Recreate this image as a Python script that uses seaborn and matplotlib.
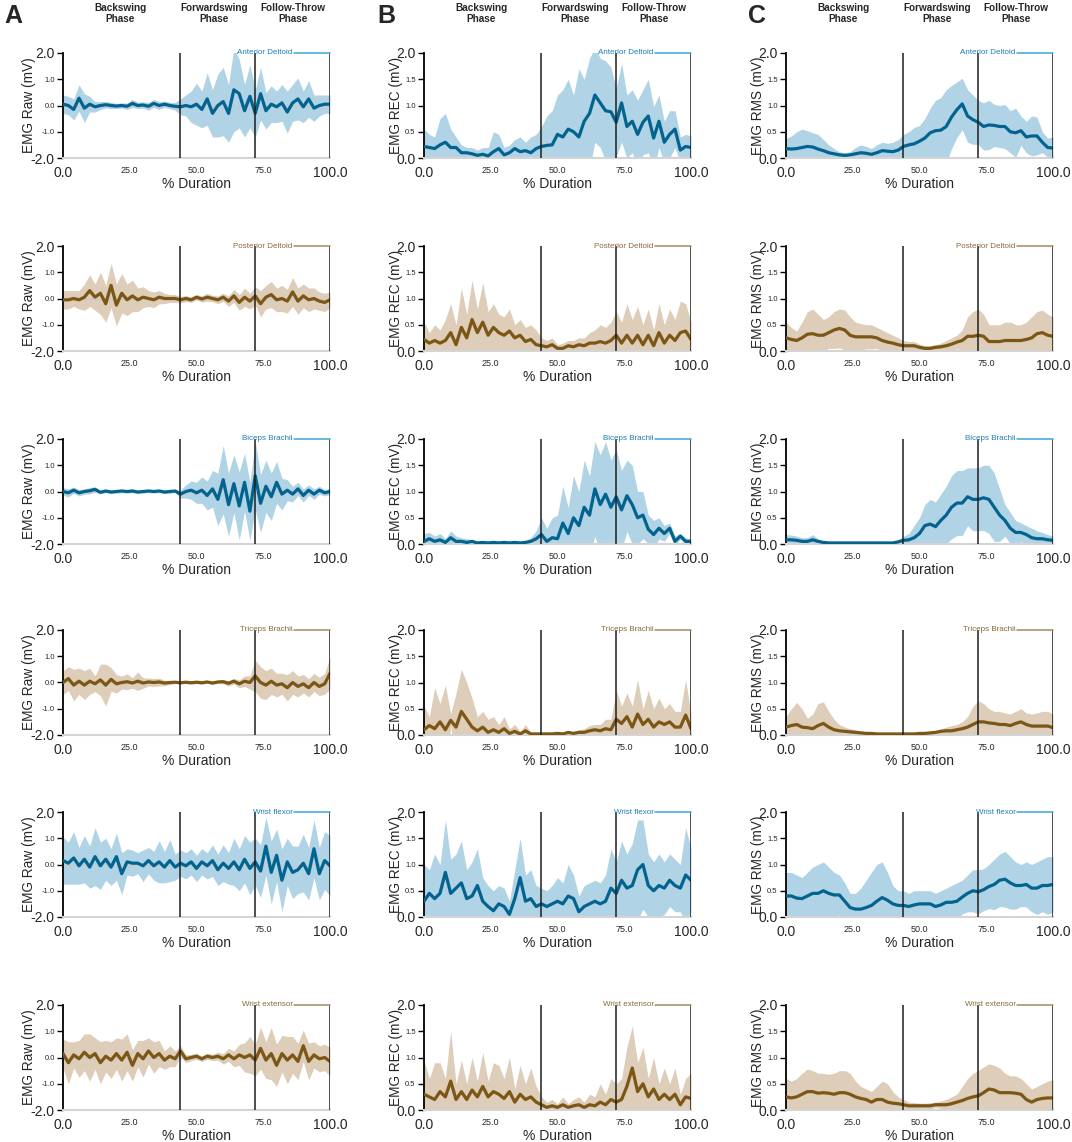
import numpy as np
import matplotlib
matplotlib.use("Agg")
import matplotlib.pyplot as plt
import seaborn as sns

# % of swing duration, sampled every 2 %
pct = np.arange(0, 101, 2)

# ---- Anterior Deltoid ----
ad_raw_mean = [0.05, 0.0, -0.15, 0.28, -0.1, 0.05, -0.05, 0.0, 0.03, 0.0,
               -0.02, 0.0, -0.03, 0.08, 0.0, 0.02, -0.03, 0.08, 0.0, 0.05,
               0.0, -0.03, -0.05, 0.0, -0.05, 0.05, -0.15, 0.25, -0.3, 0.0,
               0.15, -0.3, 0.6, 0.45, -0.2, 0.35, -0.3, 0.45, -0.2, 0.05,
               -0.05, 0.1, -0.25, 0.1, 0.25, -0.05, 0.25, -0.1, 0.0, 0.05,
               0.05]
ad_raw_sd = [0.35, 0.35, 0.4, 0.5, 0.55, 0.3, 0.2, 0.15, 0.12, 0.12,
             0.1, 0.1, 0.12, 0.15, 0.12, 0.12, 0.15, 0.15, 0.15, 0.12,
             0.12, 0.15, 0.3, 0.4, 0.6, 0.8, 0.7, 1.0, 0.9, 1.2,
             1.3, 1.1, 1.6, 1.3, 1.0, 1.2, 0.9, 1.0, 0.7, 0.7,
             0.6, 0.7, 0.8, 0.7, 0.8, 0.6, 0.7, 0.5, 0.4, 0.35,
             0.35]
ad_rec_mean = [0.22, 0.2, 0.18, 0.25, 0.3, 0.2, 0.2, 0.1, 0.1, 0.08,
               0.05, 0.07, 0.04, 0.12, 0.18, 0.06, 0.1, 0.18, 0.12, 0.14,
               0.1, 0.18, 0.22, 0.24, 0.25, 0.45, 0.4, 0.55, 0.5, 0.4,
               0.7, 0.85, 1.2, 1.05, 0.9, 0.88, 0.68, 1.05, 0.6, 0.7,
               0.45, 0.68, 0.8, 0.38, 0.7, 0.3, 0.45, 0.55, 0.15, 0.22,
               0.2]
ad_rec_sd = [0.33, 0.25, 0.22, 0.5, 0.55, 0.35, 0.2, 0.15, 0.1, 0.12,
             0.1, 0.13, 0.16, 0.38, 0.27, 0.14, 0.15, 0.17, 0.28, 0.16,
             0.3, 0.27, 0.38, 0.56, 0.65, 0.75, 0.9, 0.95, 0.7, 1.3,
             0.8, 1.05, 0.9, 0.85, 0.95, 0.85, 0.65, 0.75, 0.6, 0.6,
             0.65, 0.62, 0.7, 0.6, 0.5, 0.4, 0.45, 0.35, 0.25, 0.23,
             0.22]
ad_rms_mean = [0.18, 0.17, 0.18, 0.2, 0.22, 0.21, 0.17, 0.14, 0.1, 0.08,
               0.06, 0.05, 0.06, 0.08, 0.1, 0.09, 0.07, 0.1, 0.14, 0.13,
               0.12, 0.15, 0.22, 0.25, 0.27, 0.32, 0.38, 0.48, 0.52, 0.53,
               0.6, 0.78, 0.92, 1.03, 0.8, 0.73, 0.68, 0.6, 0.63, 0.62,
               0.6, 0.6, 0.5, 0.48, 0.52, 0.4, 0.42, 0.42, 0.3, 0.2,
               0.19]
ad_rms_sd = [0.19, 0.25, 0.32, 0.35, 0.3, 0.27, 0.28, 0.21, 0.15, 0.1,
             0.06, 0.05, 0.06, 0.12, 0.15, 0.13, 0.11, 0.15, 0.16, 0.15,
             0.18, 0.2, 0.23, 0.25, 0.31, 0.3, 0.37, 0.47, 0.58, 0.62,
             0.7, 0.6, 0.53, 0.49, 0.5, 0.47, 0.42, 0.45, 0.47, 0.4,
             0.4, 0.42, 0.4, 0.47, 0.28, 0.3, 0.38, 0.36, 0.2, 0.18,
             0.21]

# ---- Posterior Deltoid ----
pd_raw_mean = [-0.05, -0.05, 0.0, -0.05, 0.05, 0.3, 0.05, 0.2, -0.2, 0.5,
               -0.25, 0.2, -0.05, 0.1, -0.05, 0.05, 0.0, -0.05, 0.05, 0.0,
               0.0, 0.0, -0.05, 0.0, -0.05, 0.05, -0.02, 0.05, 0.0, -0.05,
               0.05, -0.1, 0.1, -0.15, 0.05, -0.1, 0.1, -0.2, 0.05, 0.15,
               -0.05, 0.0, -0.1, 0.25, -0.1, 0.1, -0.05, 0.0, -0.1, -0.15,
               -0.05]
pd_raw_sd = [0.35, 0.35, 0.3, 0.35, 0.5, 0.6, 0.5, 0.8, 0.7, 0.85,
             0.8, 0.75, 0.6, 0.6, 0.45, 0.4, 0.3, 0.3, 0.25, 0.2,
             0.15, 0.15, 0.12, 0.12, 0.1, 0.1, 0.12, 0.15, 0.12, 0.15,
             0.15, 0.2, 0.25, 0.3, 0.35, 0.3, 0.35, 0.5, 0.45, 0.5,
             0.45, 0.5, 0.45, 0.55, 0.5, 0.45, 0.45, 0.4, 0.35, 0.35,
             0.3]
pd_rec_mean = [0.22, 0.15, 0.2, 0.15, 0.2, 0.35, 0.12, 0.45, 0.25, 0.6,
               0.35, 0.55, 0.3, 0.45, 0.35, 0.3, 0.38, 0.25, 0.3, 0.18,
               0.22, 0.12, 0.1, 0.08, 0.12, 0.05, 0.05, 0.1, 0.08, 0.12,
               0.1, 0.15, 0.15, 0.18, 0.15, 0.2, 0.3, 0.15, 0.3, 0.15,
               0.3, 0.12, 0.3, 0.1, 0.35, 0.15, 0.3, 0.2, 0.35, 0.38,
               0.22]
pd_rec_sd = [0.33, 0.2, 0.3, 0.25, 0.4, 0.55, 0.38, 0.75, 0.45, 0.75,
             0.45, 0.75, 0.45, 0.45, 0.35, 0.35, 0.42, 0.25, 0.3, 0.27,
             0.28, 0.28, 0.15, 0.12, 0.13, 0.07, 0.1, 0.1, 0.12, 0.13,
             0.15, 0.2, 0.25, 0.32, 0.3, 0.35, 0.45, 0.4, 0.6, 0.45,
             0.55, 0.38, 0.5, 0.3, 0.55, 0.35, 0.5, 0.4, 0.6, 0.52,
             0.33]
pd_rms_mean = [0.25, 0.22, 0.2, 0.25, 0.32, 0.33, 0.3, 0.3, 0.35, 0.4,
               0.43, 0.4, 0.3, 0.27, 0.27, 0.27, 0.27, 0.25, 0.2, 0.17,
               0.15, 0.12, 0.1, 0.1, 0.1, 0.07, 0.05, 0.05, 0.07, 0.08,
               0.1, 0.13, 0.17, 0.2, 0.28, 0.28, 0.3, 0.28, 0.18, 0.18,
               0.18, 0.2, 0.2, 0.2, 0.2, 0.22, 0.25, 0.33, 0.35, 0.3,
               0.28]
pd_rms_sd = [0.3, 0.23, 0.18, 0.3, 0.43, 0.47, 0.4, 0.3, 0.3, 0.35,
             0.37, 0.38, 0.35, 0.28, 0.25, 0.23, 0.23, 0.2, 0.2, 0.18,
             0.15, 0.13, 0.1, 0.08, 0.08, 0.06, 0.05, 0.05, 0.05, 0.07,
             0.1, 0.12, 0.13, 0.2, 0.37, 0.47, 0.5, 0.42, 0.32, 0.32,
             0.32, 0.35, 0.35, 0.3, 0.3, 0.33, 0.4, 0.42, 0.43, 0.4,
             0.37]

# ---- Biceps Brachii ----
bb_raw_mean = [0.0, -0.05, 0.05, -0.05, 0.0, 0.03, 0.08, -0.03, 0.02, -0.02,
               0.0, 0.02, 0.0, 0.02, -0.02, 0.0, 0.02, 0.0, 0.02, -0.02,
               0.0, 0.02, -0.1, 0.0, 0.05, -0.05, 0.05, -0.15, 0.1, -0.3,
               0.45, -0.5, 0.3, -0.55, 0.35, -0.75, 0.6, -0.45, 0.2, -0.2,
               0.35, -0.1, 0.05, -0.1, 0.1, -0.15, 0.05, -0.1, 0.05, -0.05,
               0.0]
bb_raw_sd = [0.15, 0.15, 0.12, 0.12, 0.1, 0.12, 0.1, 0.06, 0.06, 0.06,
             0.06, 0.06, 0.06, 0.06, 0.06, 0.06, 0.06, 0.06, 0.06, 0.06,
             0.06, 0.06, 0.15, 0.25, 0.35, 0.4, 0.5, 0.55, 0.7, 1.0,
             1.3, 1.2, 1.1, 1.3, 1.1, 1.1, 1.3, 1.1, 1.0, 0.9,
             0.8, 0.6, 0.4, 0.3, 0.25, 0.25, 0.2, 0.2, 0.15, 0.12,
             0.12]
bb_rec_mean = [0.05, 0.1, 0.05, 0.08, 0.03, 0.12, 0.05, 0.05, 0.03, 0.05,
               0.02, 0.03, 0.02, 0.03, 0.02, 0.03, 0.02, 0.03, 0.02, 0.03,
               0.05, 0.1, 0.18, 0.05, 0.12, 0.1, 0.4, 0.2, 0.5, 0.35,
               0.7, 0.55, 1.05, 0.75, 0.95, 0.7, 0.9, 0.65, 0.92, 0.75,
               0.5, 0.55, 0.28, 0.18, 0.3, 0.2, 0.3, 0.05, 0.15, 0.05,
               0.05]
bb_rec_sd = [0.15, 0.12, 0.1, 0.12, 0.07, 0.13, 0.1, 0.07, 0.07, 0.03,
             0.03, 0.03, 0.03, 0.03, 0.03, 0.03, 0.03, 0.03, 0.03, 0.04,
             0.07, 0.15, 0.32, 0.25, 0.38, 0.45, 0.7, 0.5, 0.8, 0.65,
             0.9, 0.75, 0.9, 0.95, 1.0, 0.9, 0.9, 0.75, 0.68, 0.75,
             0.5, 0.45, 0.27, 0.27, 0.2, 0.15, 0.1, 0.1, 0.05, 0.07,
             0.05]
bb_rms_mean = [0.08, 0.08, 0.07, 0.05, 0.05, 0.08, 0.05, 0.03, 0.02, 0.02,
               0.02, 0.02, 0.02, 0.02, 0.02, 0.02, 0.02, 0.02, 0.02, 0.02,
               0.02, 0.04, 0.07, 0.08, 0.12, 0.2, 0.35, 0.38, 0.33, 0.45,
               0.55, 0.7, 0.78, 0.78, 0.9, 0.85, 0.85, 0.88, 0.85, 0.7,
               0.55, 0.45, 0.3, 0.22, 0.22, 0.18, 0.12, 0.1, 0.1, 0.08,
               0.07]
bb_rms_sd = [0.1, 0.09, 0.08, 0.07, 0.07, 0.1, 0.05, 0.02, 0.02, 0.02,
             0.02, 0.02, 0.02, 0.02, 0.02, 0.02, 0.02, 0.02, 0.02, 0.02,
             0.02, 0.04, 0.08, 0.12, 0.23, 0.3, 0.4, 0.47, 0.47, 0.5,
             0.55, 0.6, 0.62, 0.62, 0.55, 0.6, 0.6, 0.62, 0.65, 0.65,
             0.5, 0.3, 0.3, 0.23, 0.18, 0.17, 0.18, 0.15, 0.12, 0.1,
             0.08]

# ---- Triceps Brachii ----
tb_raw_mean = [0.0, 0.15, -0.1, 0.05, -0.1, 0.05, -0.05, 0.1, -0.1, 0.12,
               -0.05, 0.0, 0.03, -0.02, 0.05, -0.02, 0.02, 0.0, 0.02, -0.02,
               0.0, 0.01, -0.01, 0.01, -0.01, 0.01, -0.01, 0.02, -0.02, 0.02,
               0.03, -0.03, 0.05, -0.05, 0.05, 0.0, 0.25, 0.0, -0.1, 0.05,
               -0.1, -0.05, -0.2, 0.0, -0.15, -0.05, -0.2, 0.0, -0.15, -0.05,
               0.35]
tb_raw_sd = [0.45, 0.45, 0.6, 0.5, 0.55, 0.5, 0.3, 0.6, 0.8, 0.45,
             0.35, 0.25, 0.3, 0.2, 0.35, 0.2, 0.15, 0.15, 0.15, 0.1,
             0.08, 0.05, 0.05, 0.05, 0.05, 0.05, 0.05, 0.05, 0.05, 0.05,
             0.08, 0.1, 0.1, 0.15, 0.2, 0.25, 0.6, 0.6, 0.55, 0.5,
             0.45, 0.4, 0.5, 0.45, 0.4, 0.35, 0.35, 0.35, 0.35, 0.4,
             0.6]
tb_rec_mean = [0.1, 0.18, 0.12, 0.25, 0.1, 0.28, 0.15, 0.45, 0.3, 0.15,
               0.08, 0.15, 0.05, 0.1, 0.05, 0.12, 0.03, 0.07, 0.02, 0.08,
               0.02, 0.02, 0.02, 0.02, 0.02, 0.03, 0.02, 0.05, 0.03, 0.05,
               0.05, 0.08, 0.1, 0.08, 0.12, 0.1, 0.3, 0.22, 0.35, 0.15,
               0.4, 0.2, 0.3, 0.15, 0.25, 0.2, 0.25, 0.15, 0.15, 0.38,
               0.12]
tb_rec_sd = [0.45, 0.17, 0.78, 0.35, 0.85, 0.12, 0.65, 0.8, 0.7, 0.55,
             0.27, 0.3, 0.25, 0.25, 0.15, 0.23, 0.09, 0.13, 0.05, 0.12,
             0.03, 0.03, 0.03, 0.03, 0.03, 0.04, 0.03, 0.03, 0.03, 0.05,
             0.07, 0.1, 0.1, 0.12, 0.18, 0.2, 0.55, 0.33, 0.45, 0.4,
             0.65, 0.3, 0.55, 0.35, 0.45, 0.3, 0.35, 0.3, 0.3, 0.67,
             0.28]
tb_rms_mean = [0.15, 0.18, 0.2, 0.15, 0.14, 0.12, 0.18, 0.22, 0.15, 0.1,
               0.08, 0.07, 0.06, 0.05, 0.04, 0.03, 0.03, 0.02, 0.02, 0.02,
               0.02, 0.02, 0.02, 0.02, 0.02, 0.03, 0.03, 0.04, 0.05, 0.07,
               0.08, 0.08, 0.1, 0.12, 0.15, 0.2, 0.25, 0.25, 0.23, 0.22,
               0.2, 0.2, 0.18, 0.22, 0.25, 0.2, 0.17, 0.17, 0.17, 0.17,
               0.14]
tb_rms_sd = [0.2, 0.32, 0.42, 0.35, 0.18, 0.28, 0.42, 0.41, 0.3, 0.2,
             0.12, 0.08, 0.06, 0.05, 0.04, 0.03, 0.02, 0.02, 0.02, 0.02,
             0.02, 0.02, 0.02, 0.02, 0.02, 0.02, 0.03, 0.03, 0.03, 0.05,
             0.07, 0.1, 0.1, 0.13, 0.2, 0.35, 0.4, 0.35, 0.27, 0.23,
             0.25, 0.22, 0.22, 0.23, 0.25, 0.22, 0.23, 0.25, 0.28, 0.28,
             0.26]

# ---- Wrist flexor ----
wf_raw_mean = [0.15, 0.05, 0.25, -0.05, 0.2, -0.1, 0.3, -0.05, 0.2, -0.1,
               0.3, -0.35, 0.1, 0.05, 0.05, -0.05, 0.15, -0.05, 0.1, -0.1,
               0.15, -0.1, 0.05, -0.05, 0.1, -0.15, 0.1, -0.05, 0.15, -0.2,
               0.05, -0.15, 0.1, -0.2, 0.2, -0.15, 0.1, -0.25, 0.7, -0.3,
               0.35, -0.6, 0.1, -0.3, -0.2, 0.05, -0.35, 0.6, -0.35, 0.15,
               -0.05]
wf_raw_sd = [0.9, 0.8, 1.0, 0.7, 0.9, 0.8, 1.1, 0.9, 0.8, 0.7,
             0.9, 0.8, 0.5, 0.5, 0.4, 0.6, 0.5, 0.55, 0.8, 0.6,
             0.8, 0.5, 0.5, 0.5, 0.5, 0.5, 0.5, 0.5, 0.6, 0.6,
             0.7, 0.6, 0.9, 0.8, 0.9, 1.0, 0.9, 1.0, 1.1, 1.2,
             1.0, 1.2, 0.9, 1.0, 0.9, 1.1, 1.0, 1.1, 1.0, 1.1,
             1.15]
wf_rec_mean = [0.3, 0.45, 0.35, 0.45, 0.85, 0.45, 0.55, 0.65, 0.35, 0.4,
               0.6, 0.3, 0.2, 0.12, 0.25, 0.2, 0.05, 0.35, 0.75, 0.3,
               0.35, 0.2, 0.25, 0.2, 0.25, 0.3, 0.25, 0.4, 0.35, 0.1,
               0.2, 0.25, 0.3, 0.25, 0.3, 0.55, 0.45, 0.7, 0.55, 0.6,
               0.9, 1.0, 0.6, 0.5, 0.6, 0.55, 0.7, 0.6, 0.55, 0.8,
               0.7]
wf_rec_sd = [0.7, 0.45, 0.85, 0.55, 1.0, 0.65, 0.65, 0.8, 0.55, 0.65,
             0.7, 0.45, 0.4, 0.38, 0.35, 0.35, 0.25, 0.55, 0.75, 0.5,
             0.55, 0.4, 0.3, 0.3, 0.35, 0.45, 0.4, 0.6, 0.45, 0.3,
             0.4, 0.4, 0.4, 0.4, 0.5, 0.75, 0.6, 0.75, 0.65, 0.8,
             0.95, 0.85, 0.6, 0.55, 0.6, 0.5, 0.5, 0.5, 0.45, 0.9,
             0.6]
wf_rms_mean = [0.4, 0.4, 0.36, 0.35, 0.4, 0.45, 0.45, 0.5, 0.45, 0.42,
               0.42, 0.3, 0.18, 0.15, 0.15, 0.18, 0.22, 0.3, 0.37, 0.32,
               0.25, 0.22, 0.22, 0.2, 0.23, 0.25, 0.25, 0.25, 0.2, 0.23,
               0.28, 0.28, 0.3, 0.38, 0.45, 0.5, 0.48, 0.52, 0.58, 0.62,
               0.7, 0.72, 0.65, 0.6, 0.6, 0.62, 0.55, 0.55, 0.6, 0.6,
               0.62]
wf_rms_sd = [0.45, 0.45, 0.44, 0.4, 0.45, 0.5, 0.55, 0.55, 0.5, 0.43,
             0.38, 0.35, 0.27, 0.3, 0.4, 0.52, 0.63, 0.7, 0.68, 0.53,
             0.35, 0.28, 0.28, 0.25, 0.27, 0.25, 0.25, 0.25, 0.25, 0.27,
             0.27, 0.32, 0.35, 0.32, 0.35, 0.4, 0.42, 0.4, 0.42, 0.48,
             0.5, 0.53, 0.5, 0.45, 0.4, 0.43, 0.45, 0.5, 0.5, 0.55,
             0.53]

# ---- Wrist extensor ----
we_raw_mean = [0.15, -0.2, 0.1, -0.05, 0.2, 0.0, 0.15, -0.2, 0.05, -0.1,
               0.15, -0.1, 0.2, -0.3, 0.15, -0.05, 0.25, 0.0, 0.15, -0.1,
               0.05, -0.05, 0.25, -0.05, 0.0, 0.05, -0.05, 0.05, 0.0, 0.05,
               -0.05, 0.1, -0.05, 0.1, 0.0, 0.1, -0.1, 0.35, -0.1, 0.15,
               -0.3, 0.15, -0.1, 0.1, -0.15, 0.45, -0.15, 0.1, -0.05, 0.0,
               -0.15]
we_raw_sd = [0.55, 0.8, 0.5, 0.7, 0.7, 0.9, 0.6, 0.8, 0.6, 0.7,
             0.6, 0.8, 0.7, 0.6, 0.5, 0.7, 0.5, 0.6, 0.5, 0.35,
             0.4, 0.3, 0.2, 0.15, 0.12, 0.12, 0.1, 0.12, 0.12, 0.15,
             0.2, 0.25, 0.3, 0.4, 0.55, 0.7, 0.6, 0.8, 0.7, 1.0,
             0.8, 0.7, 0.9, 0.7, 0.7, 0.6, 0.7, 0.5, 0.5, 0.5,
             0.55]
we_rec_mean = [0.3, 0.25, 0.2, 0.35, 0.25, 0.55, 0.2, 0.35, 0.2, 0.38,
               0.25, 0.45, 0.25, 0.35, 0.3, 0.22, 0.35, 0.15, 0.3, 0.2,
               0.25, 0.15, 0.1, 0.05, 0.08, 0.05, 0.1, 0.05, 0.08, 0.1,
               0.05, 0.1, 0.08, 0.15, 0.1, 0.2, 0.15, 0.2, 0.45, 0.8,
               0.35, 0.5, 0.25, 0.4, 0.2, 0.3, 0.2, 0.3, 0.1, 0.25,
               0.22]
we_rec_sd = [0.65, 0.35, 0.7, 0.55, 0.35, 0.95, 0.3, 0.6, 0.3, 0.62,
             0.3, 0.65, 0.3, 0.55, 0.55, 0.38, 0.65, 0.25, 0.55, 0.3,
             0.55, 0.3, 0.15, 0.1, 0.12, 0.07, 0.15, 0.07, 0.12, 0.15,
             0.1, 0.2, 0.17, 0.35, 0.2, 0.4, 0.35, 0.4, 0.75, 0.8,
             0.55, 0.7, 0.35, 0.6, 0.3, 0.5, 0.3, 0.5, 0.2, 0.35,
             0.48]
we_rms_mean = [0.25, 0.23, 0.25, 0.3, 0.35, 0.35, 0.32, 0.33, 0.32, 0.3,
               0.33, 0.33, 0.3, 0.25, 0.22, 0.2, 0.15, 0.2, 0.2, 0.15,
               0.13, 0.12, 0.1, 0.08, 0.08, 0.08, 0.08, 0.08, 0.1, 0.1,
               0.1, 0.12, 0.15, 0.18, 0.22, 0.25, 0.27, 0.33, 0.4, 0.38,
               0.33, 0.33, 0.33, 0.32, 0.3, 0.2, 0.15, 0.2, 0.22, 0.23,
               0.23]
we_rms_sd = [0.35, 0.32, 0.35, 0.4, 0.43, 0.4, 0.38, 0.37, 0.36, 0.4,
             0.42, 0.42, 0.4, 0.3, 0.23, 0.2, 0.2, 0.25, 0.35, 0.35,
             0.22, 0.13, 0.1, 0.07, 0.06, 0.05, 0.05, 0.06, 0.05, 0.07,
             0.1, 0.13, 0.15, 0.27, 0.38, 0.45, 0.48, 0.49, 0.48, 0.47,
             0.47, 0.37, 0.32, 0.33, 0.3, 0.3, 0.25, 0.25, 0.28, 0.32,
             0.35]

muscles = ["Anterior Deltoid", "Posterior Deltoid", "Biceps Brachii",
           "Triceps Brachii", "Wrist flexor", "Wrist extensor"]
signals = ["Raw", "REC", "RMS"]
means = [[ad_raw_mean, ad_rec_mean, ad_rms_mean],
         [pd_raw_mean, pd_rec_mean, pd_rms_mean],
         [bb_raw_mean, bb_rec_mean, bb_rms_mean],
         [tb_raw_mean, tb_rec_mean, tb_rms_mean],
         [wf_raw_mean, wf_rec_mean, wf_rms_mean],
         [we_raw_mean, we_rec_mean, we_rms_mean]]
sds = [[ad_raw_sd, ad_rec_sd, ad_rms_sd],
       [pd_raw_sd, pd_rec_sd, pd_rms_sd],
       [bb_raw_sd, bb_rec_sd, bb_rms_sd],
       [tb_raw_sd, tb_rec_sd, tb_rms_sd],
       [wf_raw_sd, wf_rec_sd, wf_rms_sd],
       [we_raw_sd, we_rec_sd, we_rms_sd]]

phase_names = ["Backswing\nPhase", "Forwardswing\nPhase", "Follow-Throw\nPhase"]
phase_centers = [21.5, 56.5, 86]
phase_bounds = [44, 72, 100]
panel_letters = ["A", "B", "C"]

sns.set_style("white")
plt.rcParams["font.family"] = ["Liberation Sans", "DejaVu Sans"]

blue = {"line": "#03638f", "fill": "#b0d3e6", "label": "#1d7fb2", "tag": "#3da4d4"}
brown = {"line": "#7c5614", "fill": "#ddcdb9", "label": "#8a6a38", "tag": "#a38a5c"}

W, H = 1072, 1142
fig = plt.figure(figsize=(W / 100, H / 100), dpi=100)
col_left = [63, 424, 786]
row_top = [53, 246, 439, 630, 812, 1005]
ax_w, ax_h = 267, 105
ylab_x = [-0.10, -0.08, -0.08]
letter_x = [13, 386, 757]

for r, muscle in enumerate(muscles):
    pal = blue if r % 2 == 0 else brown
    for c, sig in enumerate(signals):
        ax = fig.add_axes([col_left[c] / W, 1 - (row_top[r] + ax_h) / H,
                           ax_w / W, ax_h / H])
        m = np.array(means[r][c])
        s = np.array(sds[r][c])
        ax.fill_between(pct, m - s, m + s, color=pal["fill"], lw=0, zorder=1)
        sns.lineplot(x=pct, y=m, ax=ax, color=pal["line"], lw=2.3, zorder=3)

        if sig == "Raw":
            ylo, yhi = -2.0, 2.0
            yt = [-2.0, -1.0, 0.0, 1.0, 2.0]
            ax.axhline(0, color="#c9c9c9", lw=0.9, zorder=2)
        else:
            ylo, yhi = 0.0, 2.0
            yt = [0.0, 0.5, 1.0, 1.5, 2.0]

        for xb in phase_bounds:
            ax.axvline(xb, color="#1e1e1e", lw=1.1, zorder=4)

        ax.set_xlim(0, 100)
        ax.set_ylim(ylo, yhi)
        ax.set_xticks([0, 25, 50, 75, 100])
        ax.set_xticklabels(["0.0", "25.0", "50.0", "75.0", "100.0"])
        ax.set_yticks(yt)
        ax.set_yticklabels([f"{v:.1f}" for v in yt])
        for i, t in enumerate(ax.get_xticklabels()):
            t.set_fontsize(10 if i in (0, 4) else 6.5)
        for i, t in enumerate(ax.get_yticklabels()):
            t.set_fontsize(10 if i in (0, 4) else 5.5)

        sns.despine(ax=ax)
        ax.spines["left"].set_color("black")
        ax.spines["left"].set_linewidth(1.3)
        ax.spines["bottom"].set_color("#d4d4d4")
        ax.spines["bottom"].set_linewidth(1.5)
        ax.tick_params(axis="y", left=True, length=4, width=1.0, color="black", pad=2)
        ax.tick_params(axis="x", bottom=False, length=0, pad=6)

        ax.set_ylabel(f"EMG {sig} (mV)", fontsize=9.8)
        ax.yaxis.set_label_coords(ylab_x[c], 0.5)
        ax.set_xlabel("% Duration", fontsize=10)
        ax.xaxis.set_label_coords(0.5, -0.18)

        # muscle tag in the top right corner
        ax.text(86, yhi, muscle, ha="right", va="center", fontsize=5.8,
                color=pal["label"], zorder=5)
        ax.plot([86.6, 100], [yhi, yhi], color=pal["tag"], lw=1.1,
                clip_on=False, zorder=5)

        if r == 0:
            for name, xc in zip(phase_names, phase_centers):
                ax.text(xc, 1.375, name, transform=ax.get_xaxis_transform(),
                        ha="center", va="center", fontsize=7.2, fontweight="bold",
                        linespacing=1.1)

for c, letter in enumerate(panel_letters):
    fig.text(letter_x[c] / W, 1 - 16 / H, letter, ha="center", va="center",
             fontsize=18, fontweight="bold")

fig.savefig("out.png", dpi=100)
